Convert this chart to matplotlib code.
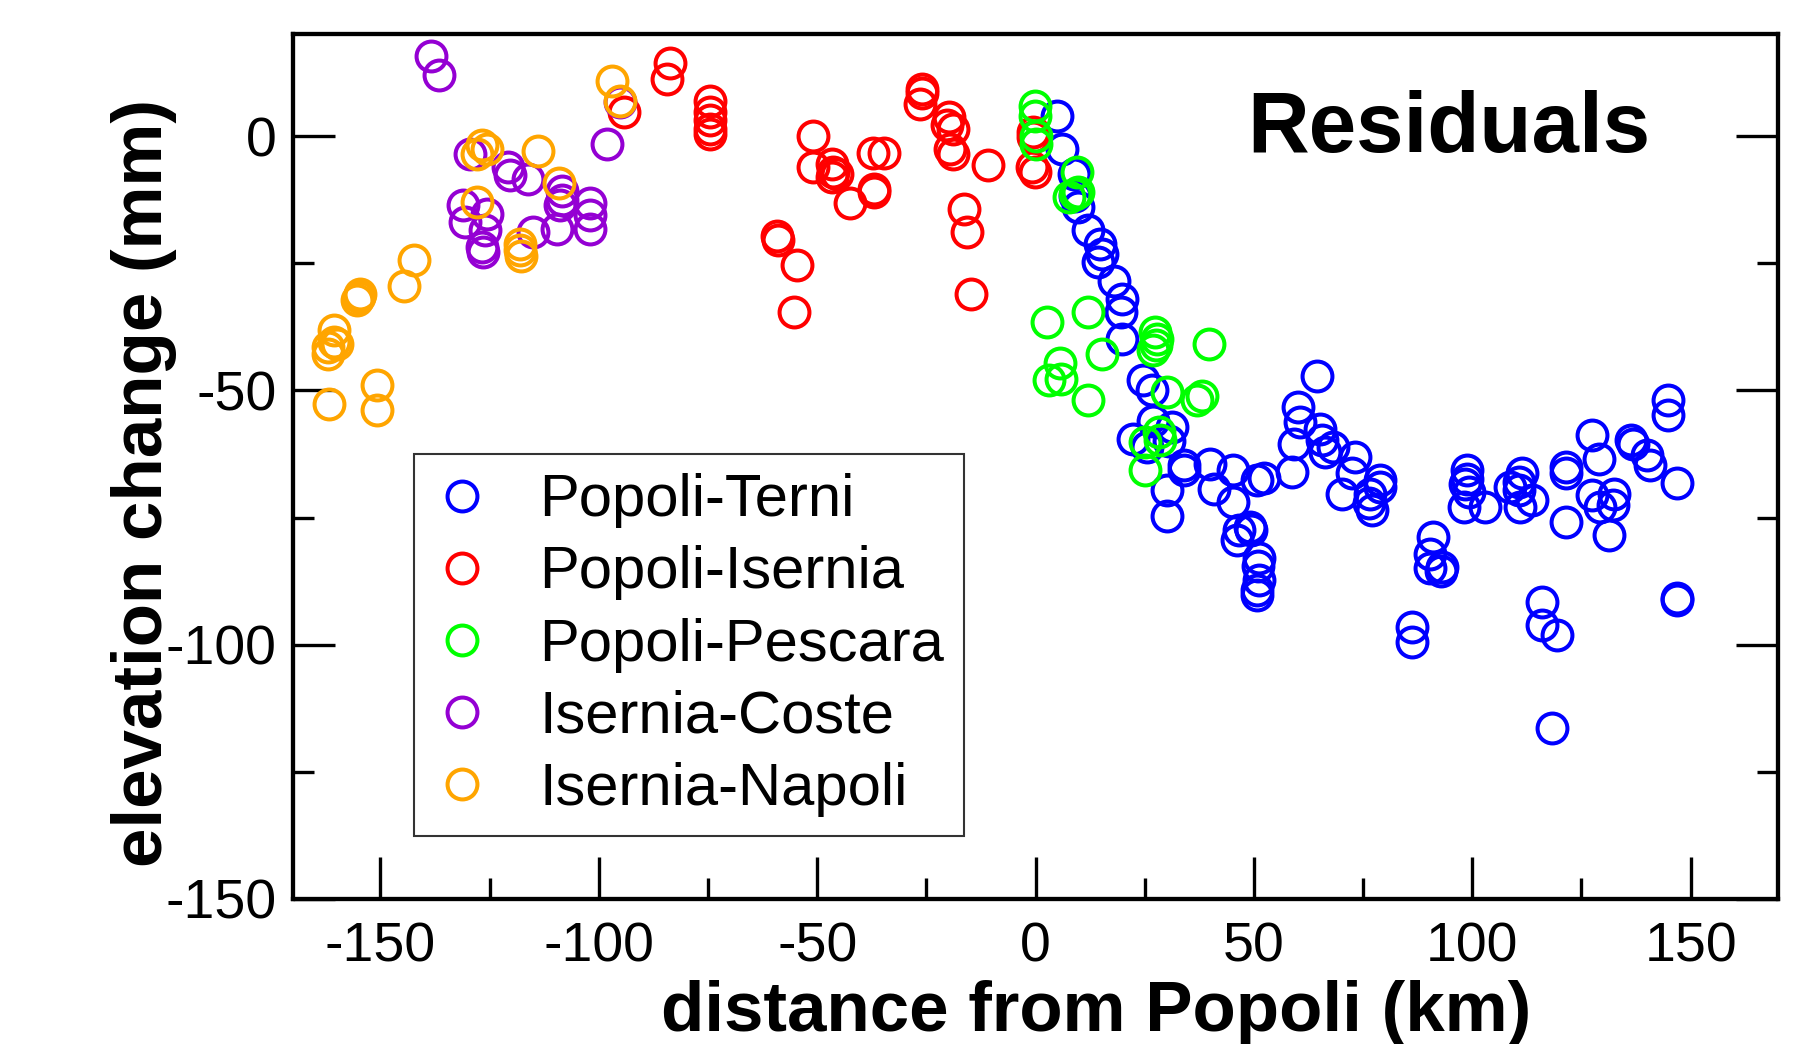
import matplotlib
matplotlib.use("Agg")
import matplotlib.pyplot as plt
from matplotlib.ticker import MultipleLocator

# ---- data (distance from Popoli in km, residual elevation change in mm) ----
terni_x = [5.0, 6.0, 8.7, 9.1, 9.8, 12.1, 14.8, 15.2, 14.4, 17.9, 19.8, 19.6, 19.8,
           24.7, 26.7, 27.0, 31.2, 22.4, 25.5, 30.5, 33.9, 34.0, 30.1, 30.1, 40.0,
           40.8, 45.3, 45.3, 46.5, 46.1, 49.2, 49.3, 50.7, 52.2, 51.1, 51.0, 51.1,
           50.7, 50.7, 64.4, 60.2, 60.5, 59.1, 58.7, 65.2, 65.6, 66.3, 68.2, 73.2,
           72.5, 70.2, 78.9, 78.8, 76.6, 76.3, 77.0, 91.1, 90.4, 90.4, 93.0, 92.8,
           86.2, 86.2, 98.8, 98.8, 98.4, 98.0, 99.2, 103.0, 111.4, 110.6, 110.7,
           108.7, 113.7, 111.0, 121.5, 121.5, 121.5, 127.3, 129.1, 127.4, 129.3,
           132.4, 132.2, 131.2, 136.4, 136.8, 140.0, 140.8, 144.7, 144.7, 146.9,
           146.9, 146.9, 116.0, 116.0, 119.4, 118.2]
terni_y = [4.0, -2.5, -7.4, -11.7, -14.0, -18.5, -21.2, -23.1, -24.8, -28.4, -32.0,
           -34.5, -39.8, -48.0, -50.0, -56.0, -57.2, -59.5, -61.1, -60.0, -64.7,
           -65.7, -69.6, -74.7, -64.4, -69.3, -65.7, -71.9, -77.5, -79.5, -76.8,
           -77.5, -67.7, -67.3, -83.0, -84.6, -87.3, -89.3, -90.2, -47.2, -53.3,
           -56.2, -60.5, -66.0, -57.5, -59.8, -62.1, -61.1, -63.1, -66.3, -70.3,
           -67.7, -69.0, -70.3, -72.2, -73.6, -78.8, -82.1, -85.0, -84.7, -85.6,
           -96.5, -99.4, -65.7, -67.4, -68.3, -72.9, -70.0, -72.9, -66.3, -68.0,
           -69.6, -69.0, -71.6, -72.9, -65.0, -66.3, -75.9, -58.8, -63.4, -70.6,
           -72.9, -70.3, -72.6, -78.5, -59.8, -60.5, -62.7, -64.7, -51.9, -54.9,
           -68.2, -90.8, -91.2, -91.6, -96.1, -98.1, -116.4]

isernia_x = [-94.3, -83.8, -84.4, -74.5, -74.5, -74.5, -74.5, -74.5, -59.2, -58.9,
             -54.6, -55.4, -51.0, -51.0, -46.6, -46.3, -46.6, -45.5, -42.4, -37.1,
             -34.8, -36.9, -36.9, -26.0, -26.0, -26.4, -19.9, -20.3, -19.0, -19.5,
             -18.8, -10.8, -16.3, -15.7, -14.7, -0.5, -0.5, -0.8, -0.1]
isernia_y = [4.7, 14.3, 11.3, 7.0, 4.7, 3.1, 1.4, 0.4, -19.7, -20.5, -25.4, -34.6,
             0.1, -6.1, -5.4, -7.1, -8.1, -7.5, -13.2, -3.3, -3.3, -10.4, -11.0,
             9.3, 8.4, 6.3, 3.7, 2.1, 1.5, -2.5, -3.5, -5.6, -14.3, -18.9, -31.0,
             0.9, -0.2, -6.1, -7.1]

pescara_x = [-0.1, -0.1, 0.0, 0.0, 9.5, 7.6, 9.1, 9.8, 2.6, 12.1, 15.2, 5.7, 5.8,
             3.0, 12.1, 27.4, 27.8, 27.6, 27.0, 39.8, 30.1, 38.1, 37.0, 28.2, 28.6,
             25.1, 25.1]
pescara_y = [6.0, 4.0, 0.1, -1.5, -7.1, -12.0, -11.3, -10.9, -36.6, -34.6, -42.8,
             -44.7, -47.7, -48.0, -51.9, -38.5, -39.8, -41.1, -42.1, -40.8, -50.3,
             -51.0, -51.9, -58.2, -59.8, -60.1, -65.7]

coste_x = [-138.4, -136.5, -129.4, -131.0, -130.6, -125.6, -126.0, -126.8, -126.4,
           -120.7, -120.3, -116.3, -115.0, -108.5, -108.5, -108.8, -109.6, -102.0,
           -102.0, -102.0, -98.1, -95.1]
coste_y = [15.8, 12.1, -3.5, -13.6, -16.9, -15.3, -18.5, -21.8, -22.8, -6.1, -7.7,
           -8.4, -18.9, -10.7, -12.6, -13.6, -18.2, -13.2, -15.6, -18.2, -1.5, 6.7]

napoli_x = [-97.0, -95.1, -126.8, -127.9, -125.6, -114.0, -109.1, -127.8, -118.0,
            -117.8, -118.0, -142.3, -144.7, -154.6, -155.4, -155.0, -160.7, -160.7,
            -160.0, -161.9, -162.0, -150.7, -150.7, -161.7]
napoli_y = [10.9, 7.0, -1.8, -3.5, -2.5, -3.0, -9.2, -13.0, -21.2, -23.5, -22.3,
            -24.3, -29.5, -31.0, -32.3, -31.6, -38.2, -40.5, -40.8, -42.8, -41.5,
            -49.0, -53.8, -52.6]

series = [
    ("Popoli-Terni", terni_x, terni_y, "#0000ff"),
    ("Popoli-Isernia", isernia_x, isernia_y, "#ff0000"),
    ("Popoli-Pescara", pescara_x, pescara_y, "#00ff00"),
    ("Isernia-Coste", coste_x, coste_y, "#9400d3"),
    ("Isernia-Napoli", napoli_x, napoli_y, "#ffa500"),
]

plt.rcParams['font.family'] = ['Liberation Sans', 'DejaVu Sans']
plt.rcParams['axes.unicode_minus'] = False

fig = plt.figure(figsize=(18.02, 10.44), dpi=100)
ax = fig.add_axes([0.1626, 0.1389, 0.8241, 0.8281])

for name, xs, ys, col in series:
    ax.plot(xs, ys, linestyle='none', marker='o', markersize=21.5,
            markerfacecolor='none', markeredgecolor=col, markeredgewidth=2.9,
            label=name)

ax.set_xlim(-170, 170)
ax.set_ylim(-150, 20)
ax.xaxis.set_major_locator(MultipleLocator(50))
ax.xaxis.set_minor_locator(MultipleLocator(25))
ax.yaxis.set_major_locator(MultipleLocator(50))
ax.yaxis.set_minor_locator(MultipleLocator(25))
ax.tick_params(which='both', direction='in', top=False, right=True,
               width=2.4, labelsize=40)
ax.tick_params(which='major', length=30, pad=12)
ax.tick_params(which='minor', length=15)
ax.tick_params(axis='x', which='major', pad=16)
for s in ax.spines.values():
    s.set_linewidth(3.1)

ax.set_xlabel("distance from Popoli (km)", fontsize=51, fontweight='bold')
ax.xaxis.set_label_coords(0.541, -0.094)
ax.xaxis.label.set_va('top')
ax.set_ylabel("elevation change (mm)", fontsize=51, fontweight='bold')
ax.yaxis.set_label_coords(-0.078, 0.481)

ax.text(0.778, 0.889, "Residuals", transform=ax.transAxes, fontsize=61.5,
        fontweight='bold', ha='center', va='center')

leg = ax.legend(loc='upper left', bbox_to_anchor=(0.0815, 0.515), borderaxespad=0,
                fontsize=43, frameon=True, fancybox=False, edgecolor='black',
                borderpad=0.33, handlelength=0.95, handletextpad=0.82,
                labelspacing=0.285, numpoints=1)
leg.get_frame().set_linewidth(1.5)

fig.savefig("out.png", dpi=100)
